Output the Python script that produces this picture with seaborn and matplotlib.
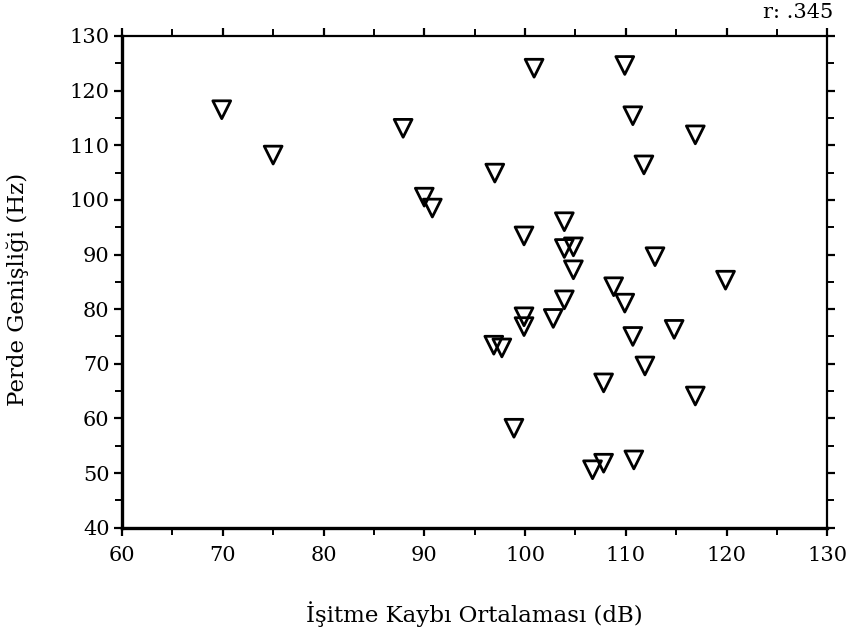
import matplotlib
matplotlib.use("Agg")
import matplotlib.pyplot as plt
from matplotlib.ticker import MultipleLocator
import seaborn as sns
import pandas as pd

# Hearing-loss average (dB) vs. pitch range width (Hz)
isitme_kaybi = [
    69.9, 75.0, 87.9,
    100.9, 109.9, 110.7, 116.9, 111.8, 97.0, 90.0, 90.8,
    103.9, 99.9, 103.9, 104.8, 104.8, 112.9, 108.8, 109.9, 119.9, 103.9,
    99.9, 99.9, 102.8, 96.9, 97.7, 110.7, 114.8, 111.9, 107.8, 116.9,
    98.9, 106.7, 107.8, 110.8,
]
perde_genisligi = [
    116.5, 108.2, 113.1,
    124.1, 124.6, 115.4, 111.9, 106.4, 104.9, 100.5, 98.5,
    96.0, 93.4, 91.1, 91.4, 87.2, 89.6, 84.1, 81.1, 85.3, 81.7,
    78.6, 76.8, 78.3, 73.4, 72.9, 75.0, 76.3, 69.6, 66.5, 64.1,
    58.2, 50.6, 51.8, 52.4,
]
r_text = "r: .345"
x_label = "İşitme Kaybı Ortalaması (dB)"
y_label = "Perde Genişliği (Hz)"

df = pd.DataFrame({"x": isitme_kaybi, "y": perde_genisligi})

sns.set_theme(style="white")
plt.rcParams["font.family"] = ["DejaVu Serif", "Liberation Serif"]

fig = plt.figure(figsize=(8.52, 6.38), dpi=100)
ax = fig.add_axes([0.1432, 0.1729, 0.8278, 0.7707])

sns.scatterplot(data=df, x="x", y="y", ax=ax, marker="v", s=165,
                facecolors="none", edgecolors="black", linewidths=2.0,
                legend=False)

ax.set_xlim(60, 130)
ax.set_ylim(40, 130)
ax.xaxis.set_major_locator(MultipleLocator(10))
ax.xaxis.set_minor_locator(MultipleLocator(5))
ax.yaxis.set_major_locator(MultipleLocator(10))
ax.yaxis.set_minor_locator(MultipleLocator(5))

ax.tick_params(which="both", direction="out", top=True, right=True,
               bottom=True, left=True, color="black",
               labelsize=15, labelcolor="black")
ax.tick_params(which="major", length=6, width=1.6)
ax.tick_params(which="minor", length=5, width=1.4)
ax.tick_params(axis="x", which="both", pad=7)
ax.tick_params(axis="y", which="both", pad=3)

for side in ["left", "bottom"]:
    ax.spines[side].set_linewidth(2.4)
for side in ["top", "right"]:
    ax.spines[side].set_linewidth(1.6)
for sp in ax.spines.values():
    sp.set_color("black")
    sp.set_visible(True)

ax.set_xlabel(x_label, fontsize=16.5, color="black")
ax.set_ylabel(y_label, fontsize=16.5, color="black")
ax.xaxis.set_label_coords(0.5, -0.175)
ax.yaxis.set_label_coords(-0.1477, 0.4855)
ax.xaxis.label.set_va("center")
ax.yaxis.label.set_va("center")
ax.yaxis.label.set_ha("center")

fig.text(0.9777, 0.980, r_text, ha="right", va="center", fontsize=15,
         color="black")

fig.savefig("out.png", dpi=100, facecolor="white")
